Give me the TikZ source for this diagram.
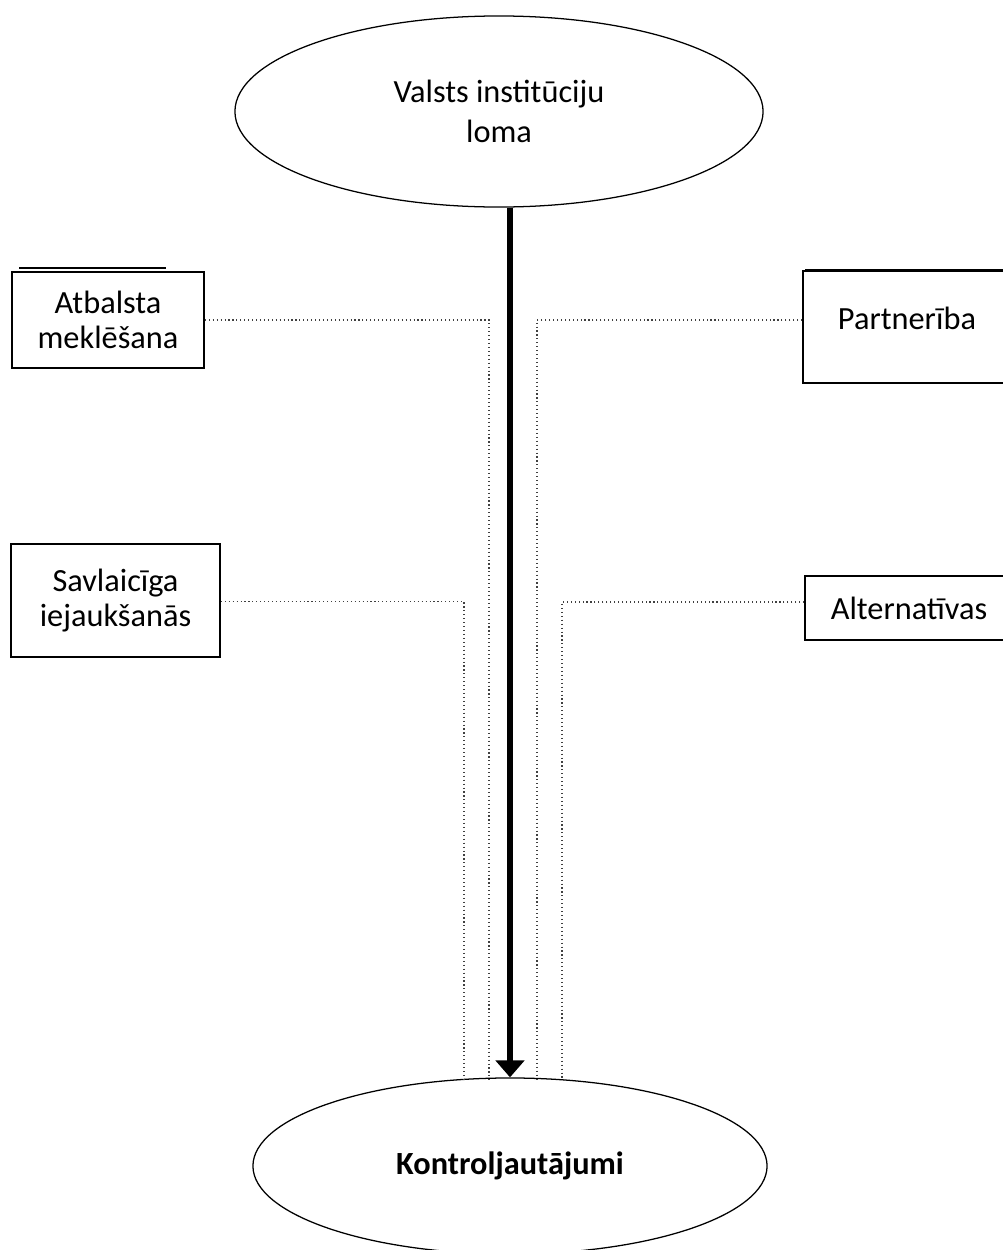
\documentclass[tikz,border=0pt]{standalone}
\usepackage{fontspec}
\setmainfont{Carlito}
\usepackage{tikz}
\usetikzlibrary{calc,shapes.geometric}
\usetikzlibrary{arrows.meta,positioning}

\begin{document}
\begin{tikzpicture}[
      x=0.025cm, y=-0.025cm,
      myellipse/.style={
         ellipse,
         draw=black,
         line width=0.9pt,
         inner sep=0pt,
         align=center,
         font=\fontsize{23}{28}\selectfont},
      mybox/.style={
         rectangle,
         draw=black,
         line width=1.2pt,
         inner sep=0pt,
         align=center,
         font=\fontsize{23}{25}\selectfont},
      myarrow/.style={line width=3.6pt,-{Triangle[width=20pt,length=12pt]}},
      mydots/.style={dotted,line width=0.8pt,draw=black!75}
      ]
      \useasboundingbox (0,0) rectangle (1003,1250);
      \clip (0,0) rectangle (1003,1250);

      \node[myellipse, minimum width=13.2cm, minimum height=4.775cm] (val) at (499,111.5) {Valsts institūciju\\loma};
      \node[myellipse, minimum width=12.85cm, minimum height=4.4cm] (kon) at (510,1166) {\textbf{Kontroljautājumi}};

      \node[mybox, minimum width=4.8cm, minimum height=2.4cm] (atb) at (108,320) {Atbalsta\\meklēšana};
      \node[mybox, minimum width=5.225cm, minimum height=2.825cm] (savl) at (115.5,600.5) {Savlaicīga\\iejaukšanās};
      \node[mybox, minimum width=5.2cm, minimum height=2.8cm, text depth=12pt] (part) at (907,327) {Partnerība};
      \node[mybox, minimum width=5.2cm, minimum height=1.6cm] (alt) at (909,608) {Alternatīvas};

      % thicker top edges
      \draw[line width=1.2pt] ($(atb.north west)+(8,-3)$) -- ($(atb.north west)+(155,-3)$);
      \draw[line width=1.6pt] ($(part.north west)+(3,0)$) -- ($(part.north east)$);

      \draw [myarrow] (val.south -| kon.north) -- (kon.north);

    \foreach \i/\a/\dx/\dy in {% box/side/offset at the bottom/shift of the start
      atb/east/-21/0,
      savl/east/-46/1,
      part/west/27/-7,
      alt/west/52/-6}
       \draw [mydots] ($(\i.\a)+(0,\dy)$) -| ($(kon.north)+(\dx,2)$);
    \end{tikzpicture}
\end{document}
